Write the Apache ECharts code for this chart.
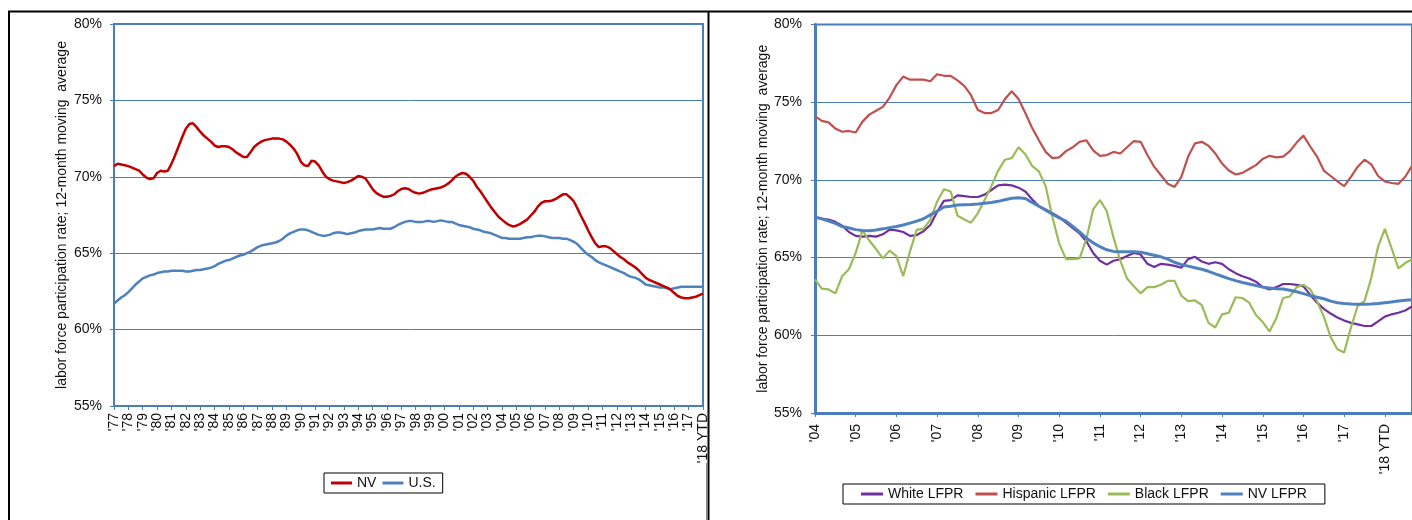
<!DOCTYPE html>
<html>
<head>
<meta charset="utf-8">
<script src="https://cdn.jsdelivr.net/npm/echarts@6/dist/echarts.min.js"></script>
<style>
html,body{margin:0;padding:0;background:#fff;}
#chart{width:1412px;height:520px;}
</style>
</head>
<body>
<div id="chart"></div>
<script>
// ---------------- DATA ----------------
// Left chart: tick labels (one per year), quarterly values
const leftYearLabels = ["'77","'78","'79","'80","'81","'82","'83","'84","'85","'86","'87","'88","'89","'90","'91","'92","'93","'94","'95","'96","'97","'98","'99","'00","'01","'02","'03","'04","'05","'06","'07","'08","'09","'10","'11","'12","'13","'14","'15","'16","'17","'18 YTD"];
const nvValues = [
70.7,70.85,70.8,70.75, 70.7,70.6,70.5,70.4, 70.15,69.95,69.85,69.9, 70.25,70.4,70.35,70.4,
70.85,71.4,72.0,72.6, 73.15,73.45,73.5,73.25, 72.95,72.7,72.5,72.3, 72.05,71.95,72.0,72.0,
71.95,71.8,71.6,71.45, 71.3,71.3,71.6,71.95, 72.15,72.3,72.4,72.45, 72.5,72.5,72.5,72.45,
72.3,72.1,71.85,71.5, 71.0,70.75,70.7,71.05, 71.0,70.75,70.35,70.0, 69.85,69.75,69.7,69.65,
69.6,69.65,69.75,69.9, 70.05,70.0,69.9,69.55, 69.2,68.95,68.8,68.7, 68.7,68.75,68.85,69.05,
69.2,69.25,69.2,69.05, 68.95,68.9,68.95,69.05, 69.15,69.2,69.25,69.3, 69.4,69.55,69.75,70.0,
70.15,70.25,70.2,70.0, 69.75,69.35,69.05,68.7, 68.35,68.0,67.7,67.4, 67.2,67.0,66.85,66.75,
66.8,66.9,67.05,67.2, 67.45,67.7,68.05,68.3, 68.4,68.4,68.45,68.55, 68.7,68.85,68.85,68.65,
68.4,67.95,67.45,67.0, 66.5,66.05,65.65,65.4, 65.45,65.45,65.35,65.15, 64.95,64.75,64.6,64.4,
64.25,64.1,63.9,63.65, 63.4,63.25,63.15,63.05, 62.95,62.85,62.75,62.6, 62.4,62.2,62.1,62.05,
62.05,62.1,62.15,62.25, 62.35
];
const usValues = [
61.7,61.9,62.1,62.25, 62.45,62.7,62.95,63.15, 63.35,63.45,63.55,63.6, 63.7,63.75,63.8,63.8,
63.85,63.85,63.85,63.85, 63.8,63.8,63.85,63.9, 63.9,63.95,64.0,64.05, 64.15,64.3,64.4,64.5,
64.55,64.65,64.75,64.85, 64.9,65.0,65.1,65.25, 65.4,65.5,65.55,65.6, 65.65,65.7,65.8,65.95,
66.15,66.3,66.4,66.5, 66.55,66.55,66.5,66.4, 66.3,66.2,66.15,66.15, 66.2,66.3,66.35,66.35,
66.3,66.25,66.3,66.35, 66.45,66.5,66.55,66.55, 66.55,66.6,66.65,66.6, 66.6,66.6,66.7,66.85,
66.95,67.05,67.1,67.1, 67.05,67.05,67.05,67.1, 67.1,67.05,67.1,67.15, 67.1,67.05,67.05,66.95,
66.85,66.8,66.75,66.7, 66.6,66.55,66.5,66.4, 66.35,66.3,66.2,66.1, 66.0,66.0,65.95,65.95,
65.95,65.95,66.0,66.05, 66.05,66.1,66.15,66.15, 66.1,66.05,66.0,66.0, 66.0,65.95,65.95,65.85,
65.75,65.6,65.35,65.1, 64.9,64.75,64.55,64.4, 64.3,64.2,64.1,64.0, 63.9,63.8,63.7,63.55,
63.45,63.4,63.3,63.15, 62.95,62.9,62.85,62.8, 62.75,62.75,62.7,62.65, 62.7,62.75,62.8,62.8,
62.8,62.8,62.8,62.8, 62.8
];

// Right chart: tick labels (one per year), values every two months
const rightYearLabels = ["'04","'05","'06","'07","'08","'09","'10","'11","'12","'13","'14","'15","'16","'17","'18 YTD"];
const whiteValues = [
67.6,67.5,67.45,67.3,67.05,66.65, 66.4,66.35,66.4,66.35,66.5,66.8, 66.75,66.65,66.4,66.45,66.7,67.1,
67.95,68.65,68.7,69.0,68.95,68.9, 68.9,69.05,69.35,69.65,69.7,69.65, 69.5,69.25,68.75,68.3,68.1,67.85,
67.6,67.25,66.9,66.55,66.05,65.3, 64.8,64.55,64.8,64.9,65.1,65.3, 65.2,64.6,64.4,64.6,64.55,64.47,
64.35,64.9,65.05,64.75,64.6,64.7, 64.6,64.25,64.0,63.8,63.65,63.45, 63.1,62.95,63.1,63.3,63.3,63.25,
63.15,62.6,62.1,61.7,61.4,61.15, 60.95,60.8,60.7,60.6,60.6,60.9, 61.2,61.35,61.45,61.6,61.85
];
const hispanicValues = [
74.1,73.8,73.7,73.3,73.1,73.15, 73.05,73.75,74.2,74.45,74.7,75.3, 76.1,76.65,76.45,76.45,76.45,76.35,
76.8,76.7,76.7,76.4,76.05,75.45, 74.5,74.3,74.3,74.5,75.2,75.7, 75.2,74.3,73.35,72.55,71.8,71.4,
71.45,71.85,72.1,72.45,72.55,71.9, 71.55,71.6,71.8,71.7,72.1,72.5, 72.45,71.6,70.85,70.3,69.75,69.55,
70.2,71.5,72.35,72.45,72.2,71.7, 71.05,70.6,70.35,70.45,70.7,70.95, 71.35,71.55,71.45,71.5,71.85,72.4,
72.85,72.15,71.5,70.6,70.25,69.9, 69.6,70.2,70.85,71.3,71.0,70.25, 69.9,69.8,69.75,70.2,70.9
];
const blackValues = [
63.6,63.0,62.95,62.7,63.8,64.25, 65.3,66.75,66.1,65.55,64.95,65.45, 65.1,63.8,65.4,66.8,66.85,67.45,
68.6,69.4,69.25,67.7,67.45,67.25, 67.85,68.7,69.6,70.6,71.3,71.4, 72.1,71.65,70.9,70.55,69.6,67.6,
65.9,64.9,64.9,64.95,66.2,68.1, 68.7,68.0,66.3,64.8,63.65,63.15, 62.7,63.1,63.1,63.25,63.5,63.5,
62.55,62.2,62.25,61.95,60.8,60.5, 61.35,61.45,62.45,62.4,62.1,61.3, 60.85,60.25,61.1,62.4,62.5,63.1,
63.25,62.95,62.2,61.2,59.9,59.1, 58.9,60.5,61.9,62.2,63.7,65.7, 66.85,65.6,64.3,64.65,64.9
];
const nvLfprValues = [
67.6,67.5,67.35,67.2,67.0,66.9, 66.8,66.75,66.73,66.78,66.85,66.93, 67.0,67.1,67.22,67.35,67.5,67.75,
67.98,68.25,68.3,68.38,68.4,68.42, 68.45,68.5,68.55,68.62,68.72,68.82, 68.85,68.8,68.55,68.3,68.05,67.8,
67.55,67.35,67.0,66.65,66.25,65.95, 65.7,65.5,65.4,65.38,65.38,65.38, 65.35,65.25,65.15,65.05,64.9,64.7,
64.55,64.45,64.35,64.25,64.12,63.95, 63.8,63.65,63.52,63.4,63.3,63.2, 63.1,63.05,63.0,62.98,62.9,62.8,
62.68,62.55,62.45,62.35,62.2,62.1, 62.05,62.01,62.0,62.0,62.01,62.05, 62.1,62.15,62.2,62.25,62.28
];
const yTitle = 'labor force participation rate; 12-month moving  average';

// ---------------- BUILD CATEGORIES ----------------
function buildCats(labels, perYear, lastCount) {
  const cats = [];
  labels.forEach(function (lb, i) {
    const n = (i === labels.length - 1) ? lastCount : perYear;
    for (let k = 0; k < n; k++) cats.push(k === 0 ? lb : lb + '#' + k);
  });
  return cats;
}
const leftCats = buildCats(leftYearLabels, 4, 1);
const rightCats = buildCats(rightYearLabels, 6, 5);

const FONT = "'Liberation Sans', Arial, sans-serif";
const AXIS_BLUE = '#4A7EBB';
const TXT = '#111';

function xAxisDef(grid, cats, step, margin, lw) {
  return {
    type: 'category', gridIndex: grid, data: cats, boundaryGap: false,
    axisLine: { show: true, lineStyle: { color: AXIS_BLUE, width: lw } },
    axisTick: { show: true, length: 4, interval: function (i) { return i % step === 0; }, lineStyle: { color: AXIS_BLUE, width: 1 } },
    axisLabel: { interval: function (i) { return i % step === 0; }, rotate: 90, margin: margin, fontSize: 14, color: TXT, fontFamily: FONT,
      formatter: function (v) { return v.split('#')[0]; } },
    splitLine: { show: false }
  };
}
function yAxisDef(grid, gap, margin, lw) {
  return {
    type: 'value', gridIndex: grid, min: 55, max: 80, interval: 5,
    name: yTitle, nameLocation: 'middle', nameGap: gap, nameRotate: 90,
    nameTextStyle: { fontSize: 14, color: TXT, fontFamily: FONT },
    axisLine: { show: true, lineStyle: { color: AXIS_BLUE, width: lw } },
    axisTick: { show: true, length: 4, lineStyle: { color: AXIS_BLUE, width: 1 } },
    axisLabel: { formatter: '{value}%', margin: margin, fontSize: 14, color: TXT, fontFamily: FONT },
    splitLine: { show: true, lineStyle: { color: AXIS_BLUE, width: 1 } }
  };
}
function lineSeries(name, data, color, width, xi) {
  return { name: name, type: 'line', data: data, xAxisIndex: xi, yAxisIndex: xi,
    showSymbol: false, symbol: 'none', lineStyle: { color: color, width: width }, itemStyle: { color: color } };
}

const chart = echarts.init(document.getElementById('chart'), null, { renderer: 'canvas' });
chart.setOption({
  animation: false,
  backgroundColor: '#fff',
  grid: [
    { left: 114, top: 24, width: 589, height: 382, show: true, borderColor: AXIS_BLUE, borderWidth: 2 },
    { left: 815, top: 24.5, width: 599.4, height: 388.5, show: true, borderColor: AXIS_BLUE, borderWidth: 2 }
  ],
  xAxis: [ xAxisDef(0, leftCats, 4, 7, 2), xAxisDef(1, rightCats, 6, 11, 3) ],
  yAxis: [ yAxisDef(0, 45, 12, 2), yAxisDef(1, 43, 13, 3) ],
  legend: [
    { data: ['NV', 'U.S.'], left: 324, top: 473, orient: 'horizontal', icon: 'rect', itemWidth: 21, itemHeight: 3,
      itemGap: 6, padding: [3, 7], borderColor: '#000', borderWidth: 1, backgroundColor: '#fff',
      textStyle: { fontSize: 14, color: TXT, fontFamily: FONT } },
    { data: ['White LFPR', 'Hispanic LFPR', 'Black LFPR', 'NV LFPR'], left: 843, top: 484, orient: 'horizontal', icon: 'rect',
      itemWidth: 22, itemHeight: 3, itemGap: 12, padding: [3, 18], borderColor: '#000', borderWidth: 1, backgroundColor: '#fff',
      textStyle: { fontSize: 14, color: TXT, fontFamily: FONT } }
  ],
  series: [
    lineSeries('U.S.', usValues, '#4F81BD', 2.5, 0),
    lineSeries('NV', nvValues, '#C00000', 2.5, 0),
    lineSeries('White LFPR', whiteValues, '#7030A0', 2.2, 1),
    lineSeries('Hispanic LFPR', hispanicValues, '#C0504D', 2.2, 1),
    lineSeries('Black LFPR', blackValues, '#9BBB59', 2.2, 1),
    lineSeries('NV LFPR', nvLfprValues, '#4F81BD', 3, 1)
  ],
  graphic: [
    { type: 'line', shape: { x1: 8, y1: 11.5, x2: 1412, y2: 11.5 }, style: { stroke: '#000', lineWidth: 2 }, silent: true },
    { type: 'line', shape: { x1: 9, y1: 11, x2: 9, y2: 520 }, style: { stroke: '#000', lineWidth: 2 }, silent: true },
    { type: 'line', shape: { x1: 708.5, y1: 11, x2: 708.5, y2: 520 }, style: { stroke: '#000', lineWidth: 2 }, silent: true },
    { type: 'line', shape: { x1: 706.5, y1: 463, x2: 706.5, y2: 520 }, style: { stroke: '#888', lineWidth: 1 }, silent: true }
  ]
});
</script>
</body>
</html>
